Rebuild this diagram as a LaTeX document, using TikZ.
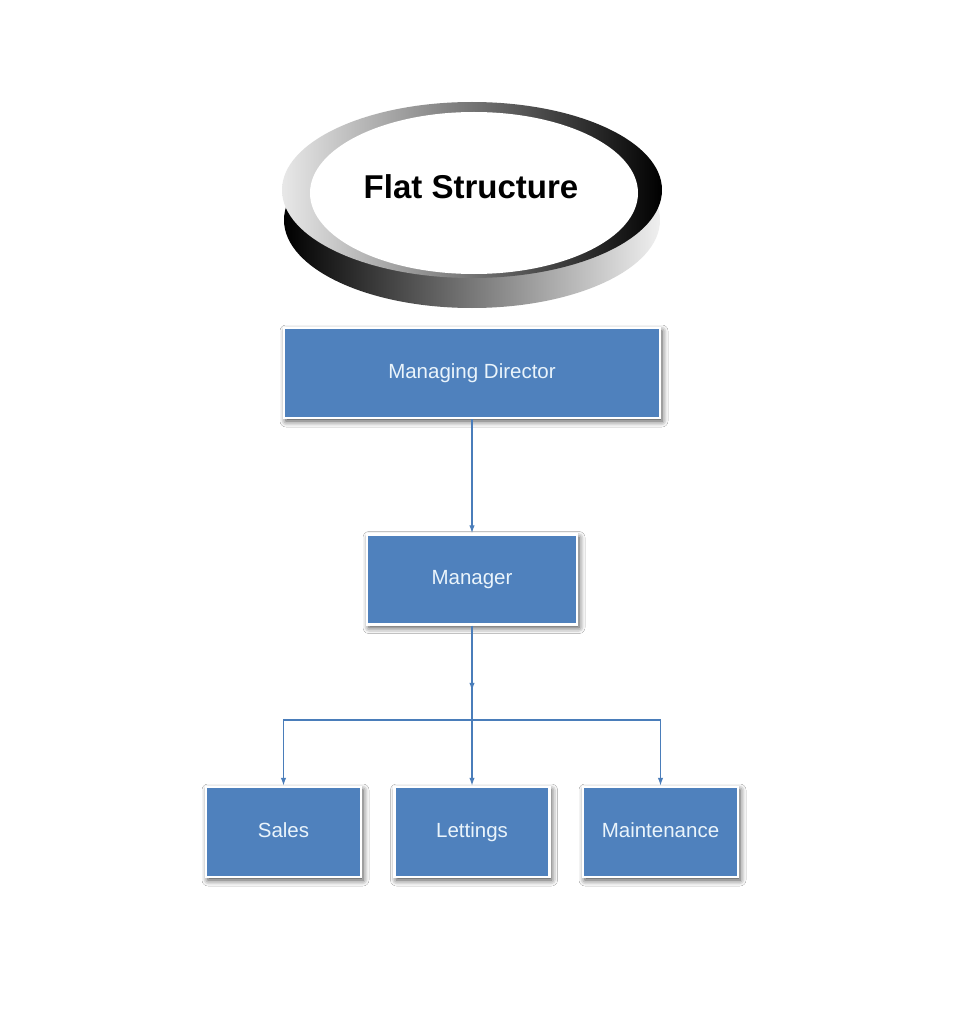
\documentclass[tikz,border=0pt]{standalone}
\usepackage{fontspec}
\setmainfont{Liberation Sans}
\usetikzlibrary{arrows.meta,positioning,shadows.blur}
\definecolor{boxblue}{HTML}{4F81BD}
\definecolor{linkblue}{HTML}{4A7DBA}
\definecolor{paletxt}{HTML}{EAF4FB}
\tikzset{
  orgbox/.style={draw=white,line width=2.5pt,fill=boxblue,text=paletxt,font=\fontsize{20.5}{24}\selectfont,minimum height=90pt,inner sep=0pt,
    text height=14pt,text depth=4pt,
    blur shadow={shadow xshift=2pt,shadow yshift=-3pt,shadow blur radius=6pt,shadow opacity=75}},
  link/.style={draw=linkblue,line width=1.3pt},
  linka/.style={link,-{Latex[length=8pt,width=5.5pt]}},
  title/.style={font=\bfseries\fontsize{33}{38}\selectfont},
}
\begin{document}
\begin{tikzpicture}[x=1pt,y=-1pt]
\useasboundingbox[fill=white] (0,0) rectangle (976,1024);
% ring
\shade[left color=black,right color=gray!12] (472,220) ellipse [x radius=188,y radius=88];
\shade[left color=gray!18,right color=black] (472,190) ellipse [x radius=190,y radius=88];
\fill[white] (474,193) ellipse [x radius=164,y radius=81];
\node[title] (ttl) at (471,187) {Flat Structure};
% boxes
\node[orgbox,minimum width=376pt] (md) at (472,373) {Managing Director};
\node[orgbox,minimum width=210pt,below=114pt of md] (mgr) {Manager};
\node[orgbox,minimum width=155pt,below=160pt of mgr] (let) {Lettings};
\node[orgbox,minimum width=155pt,left=31pt of let] (sal) {Sales};
\node[orgbox,minimum width=155pt,right=31pt of let] (mnt) {Maintenance};
% links
\coordinate (jn) at (472,720);
\draw[linka] (md) -- (mgr);
\draw[linka] (mgr.south) -- ++(0,65);
\draw[linka] (mgr.south) -- (let);
\draw[linka] (jn) -| (sal);
\draw[linka] (jn) -| (mnt);
\end{tikzpicture}
\end{document}
